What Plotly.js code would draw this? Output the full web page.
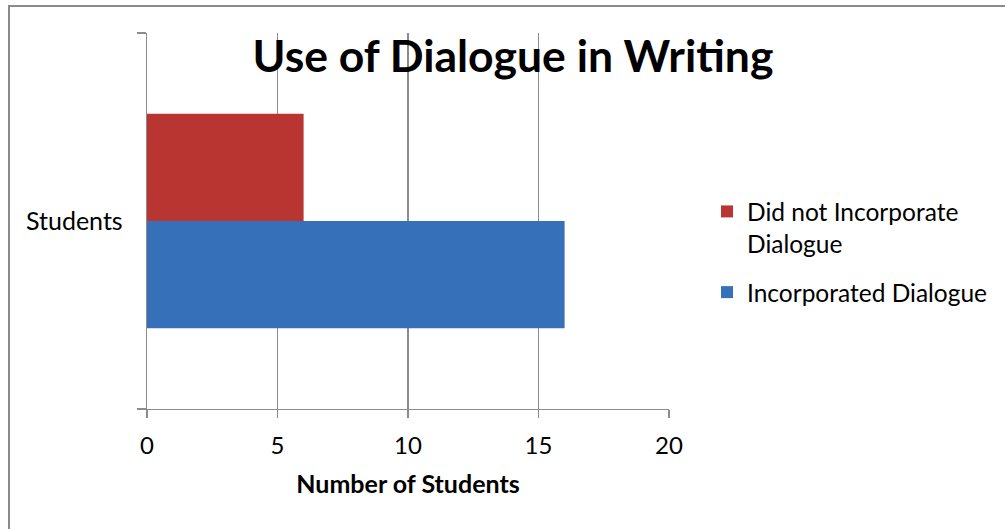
<!DOCTYPE html>
<html>
<head>
<meta charset="utf-8">
<script src="https://cdn.plot.ly/plotly-3.0.1.min.js"></script>
<style>
  html, body { margin: 0; padding: 0; background: #fff; }
  #chart { width: 1005px; height: 529px; }
</style>
</head>
<body>
<div id="chart"></div>
<script>
const categories = ['Students'];
const incorporated = [16];
const notIncorporated = [6];
const seriesNames = ['Incorporated Dialogue', 'Did not Incorporate<br>Dialogue'];
const xTickVals = [0, 5, 10, 15, 20];

const W = 1005, H = 529;
const M = { l: 147, r: 336, t: 33, b: 120 };
const pw = W - M.l - M.r, ph = H - M.t - M.b;
const px = v => (v - M.l) / pw;          // pixel x -> paper
const py = v => (H - M.b - v) / ph;      // pixel y -> paper

const FONT = 'Lato, "Open Sans", sans-serif';
const GRID = '#8c8c8c';

const traces = [
  {
    type: 'bar', orientation: 'h',
    y: categories, x: incorporated, name: seriesNames[0],
    legendgroup: 'inc', legendrank: 2,
    marker: { color: '#3670b9', line: { width: 0 } },
    hoverinfo: 'x+name'
  },
  {
    type: 'bar', orientation: 'h',
    y: categories, x: notIncorporated, name: seriesNames[1],
    legendgroup: 'not', legendrank: 1,
    marker: { color: '#b93532', line: { width: 0 } },
    hoverinfo: 'x+name'
  }
];

const layout = {
  width: W, height: H,
  margin: M,
  paper_bgcolor: '#fff', plot_bgcolor: '#fff',
  font: { family: FONT, size: 24, color: '#000' },
  barmode: 'group',
  bargap: 0.43,
  bargroupgap: 0,
  title: {
    text: '<b>Use of Dialogue in Writing</b>',
    font: { family: FONT, size: 44.5, color: '#000' },
    xref: 'container', yref: 'container',
    x: 513 / W, xanchor: 'center',
    y: 1 - 56 / H, yanchor: 'middle'
  },
  xaxis: {
    range: [0, 20],
    tickvals: xTickVals,
    showgrid: true, gridcolor: GRID, gridwidth: 1.3,
    zeroline: false,
    showline: true, linecolor: GRID, linewidth: 1.3,
    ticks: 'outside', ticklen: 8, tickcolor: GRID, tickwidth: 1.3,
    tickfont: { family: FONT, size: 24, color: '#000' },
    ticklabelstandoff: 7,
    fixedrange: true,
    title: {
      text: '<b>Number of Students</b>',
      font: { family: FONT, size: 25, color: '#000' },
      standoff: 17
    }
  },
  yaxis: {
    type: 'category',
    range: [-0.5, 0.5],
    showgrid: false, zeroline: false,
    showline: true, linecolor: GRID, linewidth: 1.3,
    ticks: 'outside', tickson: 'boundaries', ticklen: 9, tickcolor: GRID, tickwidth: 1.3,
    tickfont: { family: FONT, size: 25, color: '#000' },
    ticklabelstandoff: 18,
    fixedrange: true
  },
  legend: {
    traceorder: 'grouped',
    valign: 'top',
    xref: 'container', yref: 'container',
    x: 707 / W, xanchor: 'left',
    y: 1 - 189 / H, yanchor: 'top',
    font: { family: FONT, size: 24.5, color: '#000' },
    tracegroupgap: 14,
    bgcolor: 'rgba(0,0,0,0)'
  },
  shapes: [
    { type: 'line', xref: 'paper', yref: 'paper', x0: px(9), x1: px(9), y0: py(5), y1: py(H + 2),
      line: { color: '#8a8a8a', width: 2 } },
    { type: 'line', xref: 'paper', yref: 'paper', x0: px(8), x1: px(W + 2), y0: py(6), y1: py(6),
      line: { color: '#8a8a8a', width: 2 } }
  ]
};

Plotly.newPlot('chart', traces, layout, { displayModeBar: false, staticPlot: true });
</script>
</body>
</html>
